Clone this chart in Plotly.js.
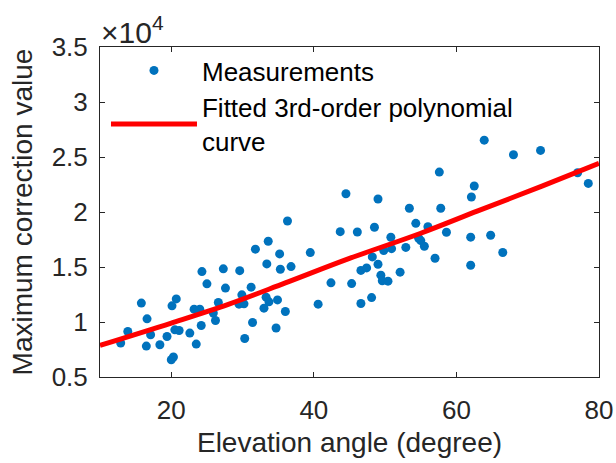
<!DOCTYPE html>
<html>
<head>
<meta charset="utf-8">
<script src="https://cdn.plot.ly/plotly-3.0.1.min.js"></script>
<style>html,body{margin:0;padding:0;background:#fff;}#chart{width:616px;height:463px;}</style>
</head>
<body>
<div id="chart"></div>
<script>
// Measurements: elevation angle (degree)
const elevation = [
  12.9, 13.9, 15.8, 16.6, 17.1, 16.5, 18.4, 19.4, 20.0, 20.3,
  20.1, 20.7, 20.5, 21.1, 22.6, 23.5, 23.2, 24.0, 24.2, 24.3,
  25.0, 25.9, 26.2, 26.6, 27.3, 27.6, 29.6, 31.8, 33.6, 36.3,
  35.2, 33.4, 35.3, 36.8, 39.5, 43.7, 31.2, 29.9, 29.5, 30.2,
  33.3, 34.9, 33.0, 33.7, 36.0, 31.4, 30.3, 34.7, 40.6, 42.4,
  45.3, 63.9, 68.0, 71.8, 57.6, 44.5, 49.0, 62.5, 62.1, 53.4,
  57.8, 77.0, 78.5, 46.1, 48.5, 54.3, 56.0, 58.6, 50.8, 54.7,
  55.0, 49.8, 50.9, 52.9, 55.5, 48.2, 57.0, 49.0, 46.6, 47.4,
  52.1, 49.4, 49.6, 50.4, 46.6, 48.1, 62.0, 64.8, 66.5, 62.0
];
// Measurements: maximum correction value
const correction = [
  8090, 9140, 11720, 10290, 8840, 7810, 7930, 8680, 6570, 6820,
  11470, 12100, 9290, 9230, 8990, 7990, 11170, 11170, 9680, 14580,
  13470, 10810, 10140, 11770, 14830, 13080, 14670, 16620, 17340, 19180,
  16190, 15280, 14800, 15040, 16310, 18210, 13170, 12470, 11620, 11650,
  12260, 12010, 11260, 11830, 10950, 9950, 8500, 9450, 11620, 13560,
  13490, 26530, 25200, 25600, 23630, 21660, 21180, 22360, 21360, 20340,
  20340, 23570, 22600, 18180, 18610, 18970, 18670, 18160, 17700, 17610,
  17400, 16490, 16670, 16780, 16890, 15920, 15800, 15250, 14690, 14920,
  14530, 14260, 13740, 13710, 11680, 12220, 17710, 17890, 16320, 15160
];
// Fitted 3rd-order polynomial curve
const fitX = [10, 20, 28, 36, 45, 55, 63, 72, 80];
const fitY = [7870, 9900, 11600, 13550, 15780, 18070, 20100, 22350, 24420];
// Tick labels
const xTicks = [20, 40, 60, 80];
const yTickVals = [5000, 10000, 15000, 20000, 25000, 30000, 35000];
const yTickText = ['0.5', '1', '1.5', '2', '2.5', '3', '3.5'];

const FONT = 'Liberation Sans, Arial, Helvetica, sans-serif';
const DARK = '#262626';

const traces = [
  {
    type: 'scatter', mode: 'markers', name: 'Measurements',
    x: elevation, y: correction,
    marker: {color: '#0072BD', size: 9}
  },
  {
    type: 'scatter', mode: 'lines', name: 'Fitted 3rd-order polynomial<br>curve',
    x: fitX, y: fitY,
    line: {color: '#FF0000', width: 5, shape: 'spline'}
  }
];

const axisCommon = {
  showline: true, linecolor: DARK, linewidth: 1, mirror: 'ticks',
  ticks: 'inside', ticklen: 5, tickwidth: 1, tickcolor: DARK,
  showgrid: false, zeroline: false,
  tickfont: {family: FONT, size: 26, color: DARK}
};

const layout = {
  width: 616, height: 463,
  margin: {l: 100, r: 17, t: 47, b: 86},
  paper_bgcolor: '#fff', plot_bgcolor: '#fff',
  font: {family: FONT, color: DARK},
  showlegend: true,
  legend: {
    x: 0.012, y: 1, xanchor: 'left', yanchor: 'top',
    bgcolor: 'rgba(0,0,0,0)', borderwidth: 0,
    font: {family: FONT, size: 26, color: '#000'},
    itemwidth: 86, valign: 'middle'
  },
  xaxis: Object.assign({}, axisCommon, {
    range: [10, 80], tickvals: xTicks, ticktext: xTicks.map(String),
    ticklabelstandoff: 10,
    title: {text: 'Elevation angle (degree)', font: {family: FONT, size: 28, color: DARK}, standoff: 8}
  }),
  yaxis: Object.assign({}, axisCommon, {
    range: [5000, 35000], tickvals: yTickVals, ticktext: yTickText,
    ticklabelstandoff: 6,
    title: {text: 'Maximum correction value', font: {family: FONT, size: 28, color: DARK}, standoff: 10}
  }),
  annotations: [{
    xref: 'paper', yref: 'paper', x: 0, y: 1, xanchor: 'left', yanchor: 'bottom',
    text: '×10<sup>4</sup>', showarrow: false,
    font: {family: FONT, size: 30, color: DARK}, xshift: -1, yshift: -4
  }]
};

Plotly.newPlot('chart', traces, layout, {displayModeBar: false, staticPlot: true});
</script>
</body>
</html>
